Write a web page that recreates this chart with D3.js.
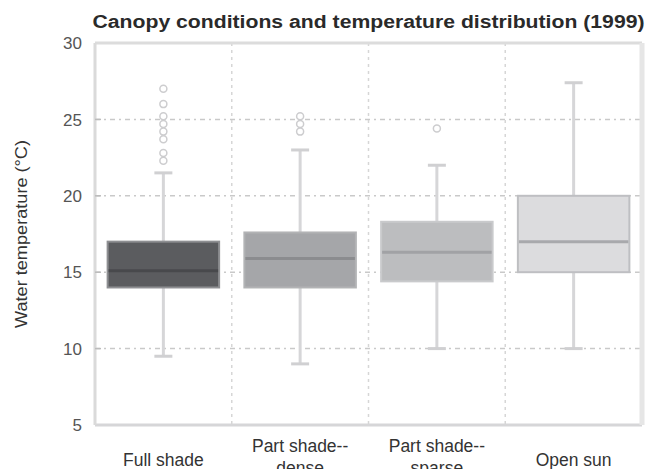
<!DOCTYPE html>
<html>
<head>
<meta charset="utf-8">
<script src="https://cdn.jsdelivr.net/npm/d3@7"></script>
<style>
  body { margin: 0; background: #fff; }
  text { font-family: "Liberation Sans", Arial, sans-serif; }
</style>
</head>
<body>
<div id="chart"></div>
<script>
// category labels (multi-line)
const categories = [
    ["Full shade"],
    ["Part shade--", "dense"],
    ["Part shade--", "sparse"],
    ["Open sun"]
]
// box stats per category: [low whisker, q1, median, q3, high whisker]
const fiveNumbers = [
    [9.5, 14.0, 15.1, 17.0, 21.5],
    [9.0, 14.0, 15.9, 17.6, 23.0],
    [10.0, 14.4, 16.3, 18.3, 22.0],
    [10.0, 15.0, 17.0, 20.0, 27.4]
]
const outliers = [
    [27.0, 26.0, 25.2, 24.7, 24.2, 23.7, 22.8, 22.3],
    [25.2, 24.7, 24.2],
    [24.4],
    []
]
const yTicks = [5, 10, 15, 20, 25, 30]

const width = 657
const height = 469
const margin = { top: 43, right: 15, bottom: 44, left: 95 }

const fills = ['#5b5c5f', '#a5a6a9', '#bcbdbf', '#dcdcde']
const strokes = ['#8e8f92', '#b2b3b5', '#c9cacc', '#bebfc2']
const medianColors = ['#48494c', '#8b8c8f', '#a1a2a5', '#a8a9ac']

const svg = d3.select('#chart').append('svg')
    .attr('width', width)
    .attr('height', height)

const x = d3.scaleBand()
    .domain(d3.range(categories.length))
    .range([margin.left, width - margin.right])
    .paddingInner(0.17)
    .paddingOuter(0.085)

const y = d3.scaleLinear()
    .domain([5, 30])
    .range([height - margin.bottom, margin.top])

const plotLeft = margin.left, plotRight = width - margin.right
const plotTop = margin.top, plotBottom = height - margin.bottom

// title (the original is rendered wide)
svg.append('text')
    .attr('x', (plotLeft + plotRight) / 2)
    .attr('y', 28)
    .attr('text-anchor', 'middle')
    .attr('font-size', '18px')
    .attr('font-weight', 'bold')
    .attr('fill', '#2a2a2a')
    .attr('textLength', 552)
    .attr('lengthAdjust', 'spacingAndGlyphs')
    .text('Canopy conditions and temperature distribution (1999)')

// horizontal grid
svg.append('g').selectAll('line')
    .data(yTicks.filter(t => t > 5 && t < 30))
    .join('line')
    .attr('x1', plotLeft).attr('x2', plotRight)
    .attr('y1', d => y(d)).attr('y2', d => y(d))
    .attr('stroke', '#c9c9c9')
    .attr('stroke-width', 1.5)
    .attr('stroke-dasharray', '5,4,2,4')

// vertical grid at band boundaries
const bounds = d3.range(1, categories.length).map(i => x(i) - x.step() * x.paddingInner() / 2)
svg.append('g').selectAll('line')
    .data(bounds)
    .join('line')
    .attr('x1', d => d).attr('x2', d => d)
    .attr('y1', plotTop).attr('y2', plotBottom)
    .attr('stroke', '#d6d6d6')
    .attr('stroke-width', 1.5)
    .attr('stroke-dasharray', '3,4')

// frame
svg.append('line').attr('x1', plotLeft).attr('x2', plotRight).attr('y1', plotTop).attr('y2', plotTop)
    .attr('stroke', '#dcdcdc').attr('stroke-width', 3)
svg.append('line').attr('x1', plotLeft).attr('x2', plotRight).attr('y1', plotBottom).attr('y2', plotBottom)
    .attr('stroke', '#d6d6d8').attr('stroke-width', 3)
svg.append('line').attr('x1', plotLeft).attr('x2', plotLeft).attr('y1', plotTop).attr('y2', plotBottom)
    .attr('stroke', '#dadada').attr('stroke-width', 3)
svg.append('line').attr('x1', plotRight).attr('x2', plotRight).attr('y1', plotTop).attr('y2', plotBottom)
    .attr('stroke', '#e6e6e6').attr('stroke-width', 5)

// y axis labels
svg.append('g').selectAll('text')
    .data(yTicks)
    .join('text')
    .attr('x', 82)
    .attr('y', d => y(d))
    .attr('dy', '0.36em')
    .attr('text-anchor', 'end')
    .attr('font-size', '17px')
    .attr('fill', '#555')
    .text(d => d)

svg.append('g').selectAll('line')
    .data(yTicks.filter(t => t > 5 && t < 30))
    .join('line')
    .attr('x1', plotLeft).attr('x2', plotLeft + 6)
    .attr('y1', d => y(d)).attr('y2', d => y(d))
    .attr('stroke', '#bcbcbc').attr('stroke-width', 1.5)

// y title
svg.append('text')
    .attr('transform', `translate(27,${(plotTop + plotBottom) / 2}) rotate(-90)`)
    .attr('text-anchor', 'middle')
    .attr('font-size', '16.5px')
    .attr('fill', '#333')
    .attr('textLength', 188)
    .attr('lengthAdjust', 'spacingAndGlyphs')
    .text('Water temperature (°C)')

// boxes
const cx = i => x(i) + x.bandwidth() / 2
const capW = 18

const groups = svg.append('g').selectAll('g')
    .data(fiveNumbers)
    .join('g')

groups.append('line')
    .attr('x1', (d, i) => cx(i)).attr('x2', (d, i) => cx(i))
    .attr('y1', d => y(d[0])).attr('y2', d => y(d[4]))
    .attr('stroke', '#d6d6d8').attr('stroke-width', 3)

groups.each(function(d, i) {
    d3.select(this).selectAll('line.cap')
        .data([d[0], d[4]])
        .join('line')
        .attr('class', 'cap')
        .attr('x1', cx(i) - capW / 2).attr('x2', cx(i) + capW / 2)
        .attr('y1', v => y(v)).attr('y2', v => y(v))
        .attr('stroke', '#d0d0d2').attr('stroke-width', 3)
})

groups.append('rect')
    .attr('x', (d, i) => x(i) + 1)
    .attr('width', x.bandwidth() - 2)
    .attr('y', d => y(d[3]))
    .attr('height', d => y(d[1]) - y(d[3]))
    .attr('fill', (d, i) => fills[i])
    .attr('stroke', (d, i) => strokes[i])
    .attr('stroke-width', 2)

groups.append('line')
    .attr('x1', (d, i) => x(i) + 2).attr('x2', (d, i) => x(i) + x.bandwidth() - 2)
    .attr('y1', d => y(d[2])).attr('y2', d => y(d[2]))
    .attr('stroke', (d, i) => medianColors[i]).attr('stroke-width', 3)

// outliers
outliers.forEach((list, i) => {
    svg.append('g').selectAll('circle')
        .data(list)
        .join('circle')
        .attr('cx', cx(i))
        .attr('cy', d => y(d))
        .attr('r', 3.5)
        .attr('fill', '#fff')
        .attr('stroke', '#cdcdcf')
        .attr('stroke-width', 1.5)
})

// x labels (second lines run off the bottom, as in the original)
const labels = svg.append('g').selectAll('text')
    .data(categories)
    .join('text')
    .attr('x', (d, i) => cx(i))
    .attr('text-anchor', 'middle')
    .attr('font-size', '17.5px')
    .attr('fill', '#333')

labels.each(function(lines, i) {
    const startY = lines.length > 1 ? 452 : 466
    d3.select(this).selectAll('tspan')
        .data(lines)
        .join('tspan')
        .attr('x', cx(i))
        .attr('y', (d, j) => startY + j * 22)
        .text(d => d)
})
</script>
</body>
</html>
